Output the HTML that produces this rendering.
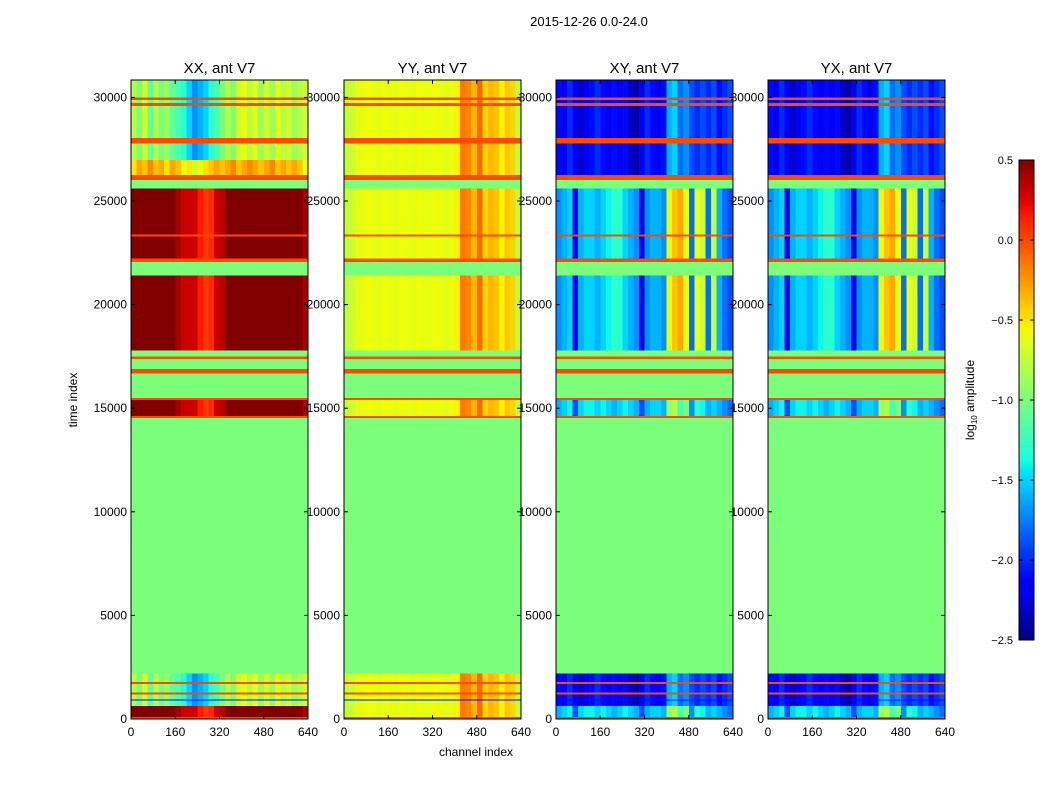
<!DOCTYPE html>
<html><head><meta charset="utf-8"><style>
body{margin:0;background:#fff;}
svg text{font-family:"Liberation Sans",sans-serif;}
</style></head><body>
<svg id="fig" width="1050" height="800" xmlns="http://www.w3.org/2000/svg">
<rect width="1050" height="800" fill="#fff"/>
<text x="589" y="26" font-size="13" text-anchor="middle">2015-12-26 0.0-24.0</text>
<text x="77" y="400" font-size="12" text-anchor="middle" transform="rotate(-90 77 400)">time index</text>
<text x="476" y="756" font-size="12" text-anchor="middle">channel index</text>
<g id="panels"></g>
<g id="cbar"></g>
<text x="974" y="400" font-size="12" text-anchor="middle" transform="rotate(-90 974 400)">log<tspan font-size="8" dy="3">10</tspan><tspan dy="-3"> amplitude</tspan></text>
</svg>
<script>
// ---- data ----
const panelTitles = ["XX, ant V7","YY, ant V7","XY, ant V7","YX, ant V7"];
const xTicks = [0,160,320,480,640];
const yTicks = [0,5000,10000,15000,20000,25000,30000];
const cbTicks = [-2.5,-2.0,-1.5,-1.0,-0.5,0.0,0.5];
// time segments
const segStart = [0,100,650,900,950,1200,1300,1700,1800,2200,14550,14650,15400,15500,16700,16900,17400,17500,17800,21430,22060,22250,22400,23300,23400,25630,26020,26260,27000,27800,28050,29600,29750,29880,30000,30780];
const segEnd   = [100,650,900,950,1200,1300,1700,1800,2200,14550,14650,15400,15500,16700,16900,17400,17500,17800,21430,22060,22250,22400,23300,23400,25630,26020,26260,27000,27800,28050,29600,29750,29880,30000,30780,30840];
const segType  = ["flag","bot1","bot2","dark","bot2","flag","bot2","flag","bot2","gap","flag","m15","flag","gap","flag","gap","flag","gap","mid","gap","flag","mid","mid","flag","mid","gap","flag","low","top","flag","top","flag","top","flag","top","top"];
// channel profiles (32 bins of 20 channels), log10 amplitude
const xxRed = [0.5,0.5,0.5,0.5,0.5,0.5,0.5,0.5,0.4,0.3,0.3,0.3,0.15,0.05,0.1,0.3,0.35,0.5,0.5,0.5,0.5,0.5,0.5,0.5,0.5,0.5,0.5,0.5,0.5,0.5,0.5,0.4];
const xxTop = [-0.8,-1.0,-0.7,-1.1,-0.8,-1.0,-0.9,-1.1,-1.2,-1.3,-1.5,-1.7,-1.6,-1.5,-1.3,-1.2,-1.0,-0.8,-1.0,-0.7,-0.6,-0.8,-0.6,-0.9,-0.7,-0.9,-0.6,-0.8,-0.7,-0.9,-0.8,-0.7];
const xxLow = [-0.5,-0.3,-0.4,-0.2,-0.4,-0.3,-0.5,-0.3,-0.4,-0.6,-0.5,-0.7,-0.6,-0.5,-0.4,-0.3,-0.4,-0.3,-0.2,-0.4,-0.3,-0.2,-0.3,-0.4,-0.3,-0.2,-0.4,-0.3,-0.4,-0.3,-0.4,-0.6];
const yyMain = [-0.75,-0.7,-0.62,-0.6,-0.58,-0.6,-0.62,-0.58,-0.6,-0.62,-0.58,-0.6,-0.62,-0.58,-0.6,-0.6,-0.58,-0.6,-0.62,-0.6,-0.55,-0.15,-0.2,-0.35,-0.1,-0.45,-0.35,-0.4,-0.55,-0.4,-0.45,-0.75];
const xyTop = [-2.1,-2.2,-2.0,-2.2,-2.3,-2.2,-2.1,-2.0,-2.1,-2.2,-2.1,-2.2,-2.1,-2.3,-2.4,-2.2,-2.0,-2.1,-2.2,-2.1,-1.6,-1.5,-1.8,-1.7,-1.9,-2.0,-1.9,-2.0,-1.9,-2.1,-2.0,-1.9];
const xyMid = [-1.7,-1.6,-1.5,-2.2,-1.6,-1.5,-1.5,-1.6,-1.5,-1.4,-1.3,-1.3,-1.5,-1.6,-1.7,-2.2,-1.7,-1.6,-1.6,-1.7,-0.6,-0.4,-0.3,-0.6,-1.8,-0.6,-0.7,-1.8,-0.7,-1.6,-1.8,-1.9];
const xyCyan = [-1.6,-1.5,-1.4,-1.9,-1.5,-1.4,-1.4,-1.5,-1.4,-1.5,-1.6,-1.5,-1.4,-1.5,-1.6,-1.9,-1.6,-1.5,-1.5,-1.6,-0.9,-0.8,-1.2,-1.0,-1.7,-1.3,-1.4,-1.6,-1.5,-1.6,-1.7,-1.8];
const flagValue = 0.0, gapValue = -1.0, darkValue = -2.1;
const panelProfiles = [
  {top:xxTop, low:xxLow, mid:xxRed, m15:xxRed, bot1:xxRed, bot2:xxTop},
  {top:yyMain, low:yyMain, mid:yyMain, m15:yyMain, bot1:yyMain, bot2:yyMain},
  {top:xyTop, low:xyTop, mid:xyMid, m15:xyCyan, bot1:xyCyan, bot2:xyTop},
  {top:xyTop, low:xyTop, mid:xyMid, m15:xyCyan, bot1:xyCyan, bot2:xyTop}
];
// ---- layout ----
const NS="http://www.w3.org/2000/svg";
const panelX=[131,344,556,768], pw=177, plotTop=80, plotBot=719, tMax=30840, vmin=-2.5, vmax=0.5;
function yScale(t){return plotBot-(t/tMax)*(plotBot-plotTop);}
function xScale(ch,px){return px+ch/640*pw;}
const jetR=[[0,0],[0.35,0],[0.66,1],[0.89,1],[1,0.5]];
const jetG=[[0,0],[0.125,0],[0.375,1],[0.64,1],[0.91,0],[1,0]];
const jetB=[[0,0.5],[0.11,1],[0.34,1],[0.65,0],[1,0]];
function pw1(pts,x){for(let i=1;i<pts.length;i++){if(x<=pts[i][0]){const a=pts[i-1],b=pts[i];return a[1]+(b[1]-a[1])*(x-a[0])/(b[0]-a[0]);}}return pts[pts.length-1][1];}
function jet(v){
  let x=(v-vmin)/(vmax-vmin); x=Math.max(0,Math.min(1,x));
  return `rgb(${Math.round(pw1(jetR,x)*255)},${Math.round(pw1(jetG,x)*255)},${Math.round(pw1(jetB,x)*255)})`;
}
function mk(tag,attrs,parent){const e=document.createElementNS(NS,tag);for(const k in attrs)e.setAttribute(k,attrs[k]);parent.appendChild(e);return e;}
const gp=document.getElementById('panels');
panelTitles.forEach((title,pi)=>{
  const px=panelX[pi];
  const g=mk('g',{},gp);
  
  
  const hm=mk('g',{'shape-rendering':'crispEdges'},g);
  
  
  for(let s=0;s<segStart.length;s++){
    const y1=yScale(segEnd[s]), y0=yScale(segStart[s]), type=segType[s];
    for(let b=0;b<32;b++){
      let v;
      if(type==='flag')v=flagValue; else if(type==='gap')v=gapValue; else if(type==='dark')v=darkValue; else v=panelProfiles[pi][type][b];
      const x0=xScale(b*20,px), x1=xScale((b+1)*20,px);
      const r=mk('rect',{x:x0.toFixed(2),y:y1.toFixed(2),width:(x1-x0+0.3).toFixed(2),height:(y0-y1+0.3).toFixed(2),fill:jet(v)},hm);
      
      
    }
  }
  const fr=mk('rect',{x:px,y:plotTop,width:pw,height:plotBot-plotTop,fill:'none',stroke:'#000','stroke-width':1},g);
  
  
  const tt=mk('text',{x:px+pw/2,y:73,'font-size':15,'text-anchor':'middle'},g);
  tt.textContent=title;
  
  
  xTicks.forEach(v=>{
    const x=xScale(v,px);
    mk('line',{x1:x,x2:x,y1:plotBot,y2:plotBot-4,stroke:'#000'},g);
    mk('line',{x1:x,x2:x,y1:plotTop,y2:plotTop+4,stroke:'#000'},g);
    const t=mk('text',{x:x,y:plotBot+17,'font-size':12,'text-anchor':'middle'},g);
    t.textContent=v;
    
    
  });
  yTicks.forEach(v=>{
    const y=yScale(v);
    mk('line',{x1:px,x2:px+4,y1:y,y2:y,stroke:'#000'},g);
    mk('line',{x1:px+pw,x2:px+pw-4,y1:y,y2:y,stroke:'#000'},g);
    const t=mk('text',{x:px-4,y:y+4,'font-size':12,'text-anchor':'end'},g);
    t.textContent=v;
    
    
  });
});
// colorbar
const cb=document.getElementById('cbar');


const cbx=1019,cbw=15,cbt=160,cbb=640;
const defs=mk('defs',{},cb);
const lg=mk('linearGradient',{id:'jetg',x1:0,y1:1,x2:0,y2:0},defs);
for(let i=0;i<=40;i++){const v=vmin+(vmax-vmin)*i/40;mk('stop',{offset:i/40,'stop-color':jet(v)},lg);}
mk('rect',{x:cbx,y:cbt,width:cbw,height:cbb-cbt,fill:'url(#jetg)',stroke:'#000'},cb);
cbTicks.forEach(v=>{
  const y=cbb-(v-vmin)/(vmax-vmin)*(cbb-cbt);
  mk('line',{x1:cbx,x2:cbx+4,y1:y,y2:y,stroke:'#000'},cb);
  mk('line',{x1:cbx+cbw,x2:cbx+cbw-4,y1:y,y2:y,stroke:'#000'},cb);
  const t=mk('text',{x:1013,y:y+4,'font-size':11,'text-anchor':'end'},cb);
  t.textContent=v.toFixed(1).replace('-','\u2212');
  
  
});
</script>
</body></html>
